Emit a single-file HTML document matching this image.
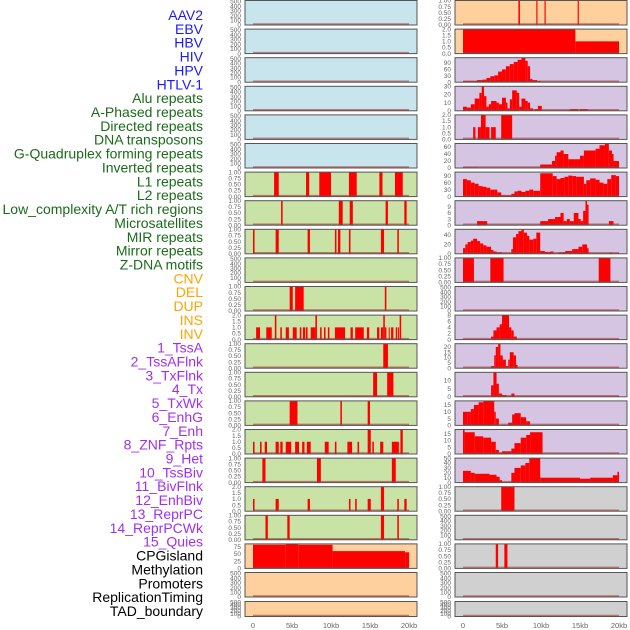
<!DOCTYPE html>
<html><head><meta charset="utf-8"><style>
html,body{margin:0;padding:0;background:#fff;width:630px;height:630px;overflow:hidden}
svg text{font-family:"Liberation Sans",sans-serif}
</style></head><body>
<svg id="chart" width="630" height="630" viewBox="0 0 630 630" xmlns="http://www.w3.org/2000/svg"></svg>
<script>
const trackLabels = ["AAV2","EBV","HBV","HIV","HPV","HTLV-1","Alu repeats","A-Phased repeats","Directed repeats","DNA transposons","G-Quadruplex forming repeats","Inverted repeats","L1 repeats","L2 repeats","Low_complexity A/T rich regions","Microsatellites","MIR repeats","Mirror repeats","Z-DNA motifs","CNV","DEL","DUP","INS","INV","1_TssA","2_TssAFlnk","3_TxFlnk","4_Tx","5_TxWk","6_EnhG","7_Enh","8_ZNF_Rpts","9_Het","10_TssBiv","11_BivFlnk","12_EnhBiv","13_ReprPC","14_ReprPCWk","15_Quies","CPGisland","Methylation","Promoters","ReplicationTiming","TAD_boundary"];
const labelGroups = [6,13,5,15,5];
const groupColors = ["#1a1aff","#1a6b1a","#ffa500","#a030f0","#000000"];
const xTicks = [0,5,10,15,20];
const xTickLabels = ["0","5kb","10kb","15kb","20kb"];

// panel backgrounds by group
const leftBg = ["blue","blue","blue","blue","blue","blue","green","green","green","green","green","green","green","green","green","green","green","green","green","peach","peach","peach"];
const rightBg = ["peach","peach","purple","purple","purple","purple","purple","purple","purple","purple","purple","purple","purple","purple","purple","purple","purple","gray","gray","gray","gray","gray"];

// y-axis maxima and ticks
const leftYMax = [520,520,520,520,520,520,1,1,1,520,1,2,1,1,1,2,1,2,1,85,520,520];
const rightYMax = [1,2,115,30,2,70,105,12,52,1,520,8,23,15,18,18,50,1,520,1,520,520];
const ticksEmpty = [0,100,200,300,400,500];
const ticksUnit = [0,0.25,0.5,0.75,1];
const ticksTwo = [0,0.5,1,1.5,2];

// left segments [startKb, endKb, value]
const L6 = [[2.7,3.3,1],[6.8,7.2,1],[8.5,10.0,1],[12.3,13.3,1],[16.2,16.6,1],[18.2,19.2,1]];
const L7 = [[3.6,3.8,1],[11.0,11.5,1],[12.4,12.8,1],[17.0,17.3,1],[19.4,19.7,1]];
const L8 = [[0,0.2,1],[2.9,3.3,1],[7.0,7.3,1],[10.5,10.7,1],[10.9,11.2,1],[12.3,12.5,1],[16.4,16.8,1],[18.5,18.7,1]];
const L10 = [[4.7,5.1,1],[5.4,6.5,1],[16.9,17.1,1]];
const L11 = [[0.4,0.9,1],[1.7,2.4,1],[2.8,3.0,2],[3.5,3.7,1],[4.2,4.6,1],[5.1,5.6,1],[6.0,6.2,1],[6.4,6.7,1],[6.8,7.0,1],[7.4,8.0,1],[8.0,8.2,2],[8.6,8.8,1],[9.1,9.3,1],[9.6,9.8,1],[10.5,11.8,1],[12.5,12.8,1],[13.1,14.2,1],[14.6,14.9,1],[15.9,16.2,1],[16.4,16.7,1],[16.7,16.9,2],[16.9,17.1,1],[17.4,17.5,1],[17.7,18.0,1],[18.3,18.5,1],[18.6,18.7,1],[18.8,19.0,2]];
const L12 = [[16.7,17.3,1]];
const L13 = [[15.4,15.9,1],[17.2,18.0,1]];
const L14 = [[4.7,5.7,1],[11.2,11.4,1],[14.7,15.0,1]];
const L15 = [[0,0.2,1],[0.9,1.1,1],[1.5,1.8,1],[2.9,3.3,1],[3.5,3.8,1],[4.2,4.9,1],[5.4,5.9,1],[6.3,6.6,1],[6.9,7.4,1],[9.2,9.7,1],[10.5,10.7,1],[12.1,12.7,1],[13.4,13.6,1],[14.7,15.1,2],[15.3,15.5,1],[16.3,16.7,1],[17.8,18.7,1],[18.9,19.2,2]];
const L16 = [[1.2,1.6,1],[8.2,8.7,1],[17.8,18.3,1]];
const L17 = [[0,0.2,1],[2.9,3.3,1],[7.0,7.3,1],[12.3,12.5,1],[13.1,13.3,1],[14.7,15.1,1],[16.4,16.8,2],[18.5,18.7,1],[19.4,19.7,1]];
const L18 = [[1.6,1.9,1],[4.4,4.7,1],[16.4,16.8,1],[18.5,18.7,1]];
const L19 = [[0,4.2,82],[4.2,5.8,85],[5.8,10.2,82],[10.2,19.5,60],[19.5,20,56]];

// right segments
const R0 = [[7.1,7.3,1],[9.4,9.55,1],[10.45,10.6,1],[14.7,14.85,1]];
const R1 = [[0,14.4,2],[14.4,20,1]];
const R2 = [[0,1.8,5],[1.8,2.5,10],[2.5,3,12],[3,3.5,20],[3.5,4,28],[4,4.5,32],[4.5,5,50],[5,5.5,60],[5.5,6,75],[6,6.5,85],[6.5,7,95],[7,7.5,105],[7.5,8,115],[8,8.3,100],[8.3,8.6,75],[8.6,8.9,15],[8.9,9.5,10],[9.5,10,5]];
const R3 = [[0,0.5,5],[0.5,1,4],[1,1.5,8],[1.5,2.1,15],[2.1,2.4,22],[2.4,2.7,30],[2.7,3.0,18],[3.0,3.3,5],[3.3,3.6,8],[3.6,4.3,12],[4.3,4.6,10],[4.6,5.0,8],[5.0,5.5,16],[5.5,5.7,10],[5.7,6.0,3],[6.0,6.3,14],[6.3,6.9,25],[6.9,7.2,22],[7.2,7.5,5],[7.5,8.0,15],[8.0,8.3,12],[8.3,8.6,10],[8.6,9.0,3],[9.2,9.6,2],[9.6,10.1,6],[13.7,14.8,2],[15.0,16.0,2]];
const R4 = [[1.3,1.6,1],[1.9,2.3,1],[2.3,2.9,2],[2.9,3.4,1],[3.6,4.2,1],[4.9,6.3,2]];
const R5 = [[0,2.0,2],[9.9,11.4,10],[11.4,11.8,20],[11.8,12.0,35],[12.0,12.5,45],[12.5,12.9,50],[12.9,13.5,40],[13.5,15.0,25],[15.0,15.5,35],[15.5,17.0,50],[17.0,17.5,55],[17.5,18.2,65],[18.2,18.7,70],[18.7,19.1,50],[19.1,19.3,40],[19.3,20,20]];
const R6 = [[0,0.5,75],[0.5,1,70],[1,1.5,60],[1.5,2,55],[2,2.5,45],[2.5,3,42],[3,3.5,38],[3.5,4,30],[4,4.4,30],[4.4,4.9,18],[4.9,6.2,5],[6.2,6.6,12],[6.6,7.0,22],[7.0,7.5,25],[7.5,8.0,20],[8.0,8.5,25],[8.5,9.0,30],[9.0,9.9,25],[9.9,11.5,100],[11.5,12.0,88],[12.0,12.5,75],[12.5,13.0,80],[13.0,13.5,85],[13.5,14.0,90],[14.0,14.5,88],[14.5,15.0,85],[15.0,15.5,85],[15.5,15.8,55],[15.8,16.3,70],[16.3,17.0,78],[17.0,17.5,72],[17.5,18.0,60],[18.0,18.5,55],[18.5,19.0,75],[19.0,19.6,92],[19.6,20,88]];
const R7 = [[1.8,3.1,2],[9.9,10.9,2],[10.9,11.8,3],[11.8,12.5,4],[12.5,12.9,6],[12.9,13.3,2],[13.3,13.7,3],[13.7,14.2,2],[14.2,14.8,6],[14.8,15.1,3],[15.1,15.4,2],[15.4,15.7,7],[15.7,15.9,12],[15.9,16.1,10],[18.7,19.3,2]];
const R8 = [[0,0.3,12],[0.3,0.6,20],[0.6,1.0,25],[1.0,1.3,28],[1.3,1.8,32],[1.8,2.2,27],[2.2,2.6,22],[2.6,3.0,18],[3.0,3.6,15],[3.6,3.9,8],[3.9,4.3,5],[4.3,4.6,3],[4.6,5.0,3],[6.2,6.4,10],[6.4,6.8,35],[6.8,7.1,42],[7.1,7.5,48],[7.5,7.8,52],[7.8,8.2,45],[8.2,8.5,38],[8.5,9.0,30],[9.0,9.4,32],[9.4,9.9,45],[9.9,10.5,6],[10.5,11.2,4],[11.2,11.6,5],[12.3,13.1,3],[13.1,14.0,6],[14.0,14.8,10],[14.8,15.3,15],[15.3,15.9,20],[15.9,16.1,12],[18.8,19.2,2],[19.8,20.0,2]];
const R9 = [[0,1.4,1],[3.5,5.2,1],[17.4,18.9,1]];
const R11 = [[3.6,3.9,1],[3.9,4.3,3],[4.3,4.7,4],[4.7,5.0,5],[5.0,5.9,8],[5.9,6.2,4],[6.2,6.5,3],[6.5,6.9,1]];
const R12 = [[3.6,4.0,2],[4.0,4.2,12],[4.2,4.5,20],[4.5,4.8,23],[4.8,5.1,12],[5.1,5.5,8],[5.5,5.8,2],[5.8,6.0,8],[6.0,6.5,15],[6.5,6.8,12],[6.8,7.0,3]];
const R13 = [[3.6,3.9,7],[3.9,4.3,15],[4.3,4.6,8],[4.6,5.0,2],[5.0,5.6,1],[6.2,6.6,2]];
const R14 = [[0,0.6,10],[0.6,1.0,10],[1.0,1.4,12],[1.4,2.0,15],[2.0,2.6,17],[2.6,4.0,18],[4.0,4.2,10],[4.2,4.6,5],[5.8,6.3,2],[6.3,6.6,8],[6.6,7.4,9],[7.4,8.1,6],[8.1,8.6,3]];
const R15 = [[0,0.2,18],[0.2,1.5,16],[1.5,2.6,13],[2.6,3.6,12],[3.6,4.2,9],[4.2,4.6,3],[4.6,5.0,1],[5.0,6.2,2],[6.2,6.6,4],[6.6,7.4,8],[7.4,8.1,12],[8.1,8.6,14],[8.6,10.2,16]];
const R16 = [[0,1,24],[1,1.5,20],[1.5,3.4,18],[3.4,4.3,16],[4.3,4.7,12],[4.7,5.0,5],[6.2,6.6,20],[6.6,7.4,30],[7.4,8.0,35],[8.0,8.5,40],[8.5,9.9,50],[9.9,15.0,10],[15.0,16.3,8],[16.3,19.2,10],[19.2,19.8,15],[19.8,20,22]];
const R17 = [[4.9,6.6,1]];
const R19 = [[4.2,4.5,1],[5.3,5.7,1]];

const leftSegs = [[],[],[],[],[],[],L6,L7,L8,[],L10,L11,L12,L13,L14,L15,L16,L17,L18,L19,[],[]];
const rightSegs = [R0,R1,R2,R3,R4,R5,R6,R7,R8,R9,[],R11,R12,R13,R14,R15,R16,R17,[],R19,[],[]];
const leftTicks = [ticksEmpty,ticksEmpty,ticksEmpty,ticksEmpty,ticksEmpty,ticksEmpty,ticksUnit,ticksUnit,ticksUnit,ticksEmpty,ticksUnit,ticksTwo,ticksUnit,ticksUnit,ticksUnit,ticksTwo,ticksUnit,ticksTwo,ticksUnit,[0,25,50,75],ticksEmpty,ticksEmpty];
const rightTicks = [ticksUnit,ticksTwo,[0,30,60,90],[0,10,20,30],ticksTwo,[0,20,40,60],[0,30,60,90],[0,3,6,9],[0,20,40],ticksUnit,ticksEmpty,[0,2,4,6,8],[0,5,10,15,20],[0,5,10],[0,5,10,15],[0,5,10,15],[0,10,20,30,40,50],ticksUnit,ticksEmpty,ticksUnit,ticksEmpty,ticksEmpty];

const NS = "http://www.w3.org/2000/svg";
const svg = document.getElementById("chart");
const bgColors = {blue:"#c8e4ec",green:"#c9e2a5",peach:"#fdd09d",purple:"#d5c5e2",gray:"#d0d0d0"};
function mk(tag, attrs, parent){const e=document.createElementNS(NS,tag);for(const k in attrs)e.setAttribute(k,attrs[k]);(parent||svg).appendChild(e);return e;}
function rowTop(i){return i<21 ? i*28.6+0.5 : 601.5;}
function rowH(i){return i<21 ? 24.5 : 15;}
function fmt(v, ticks){
  if(ticks===ticksUnit) return v.toFixed(2);
  if(ticks===ticksTwo) return v.toFixed(1);
  return String(v);
}

// labels
let li=0;
labelGroups.forEach((n,g)=>{for(let k=0;k<n;k++){
  const t=mk("text",{x:203,y:15+li*13.86+5,"text-anchor":"end","font-size":"14",fill:groupColors[g]});
  
  
  t.textContent=trackLabels[li];li++;}});

function drawPanel(side, i, x0, segs, ymax, ticks, bg){
  const top=rowTop(i), h=rowH(i), bot=top+h;
  const g=mk("g",{});
  
  
  const pxL=x0, pxR=x0+172;
  const xs = kb => x0+8 + kb/20*156;
  const ys = v => bot - v/ymax*h;
  mk("rect",{x:pxL,y:top,width:172,height:h,fill:bgColors[bg]},g);
  segs.forEach(s=>{
    const r=mk("rect",{x:xs(s[0]),y:ys(s[2]),width:Math.max(1,xs(s[1])-xs(s[0])),height:bot-ys(s[2]),fill:"#ff0000"},g);
    
    
  });
  mk("line",{x1:xs(0),x2:xs(20),y1:bot-1,y2:bot-1,stroke:"#b03030","stroke-opacity":"0.6","stroke-width":"1.5"},g);
  mk("rect",{x:pxL,y:top,width:172,height:h,fill:"none",stroke:"#555","stroke-width":"1"},g);
  ticks.forEach(v=>{
    const t=mk("text",{x:x0-4,y:ys(v)+2.2,"text-anchor":"end","font-size":"6.5",fill:"#666"},g);
    
    
    t.textContent=fmt(v,ticks);
  });
}
for(let i=0;i<22;i++){
  drawPanel("left",i,245,leftSegs[i],leftYMax[i],leftTicks[i],leftBg[i]);
  drawPanel("right",i,455,rightSegs[i],rightYMax[i],rightTicks[i],rightBg[i]);
}
[245,455].forEach((x0,si)=>{
  xTicks.forEach((v,k)=>{
    const t=mk("text",{x:x0+8+v/20*156,y:628,"text-anchor":"middle","font-size":"7.5",fill:"#666"});
    
    
    t.textContent=xTickLabels[k];
  });
});
</script>
</body></html>
